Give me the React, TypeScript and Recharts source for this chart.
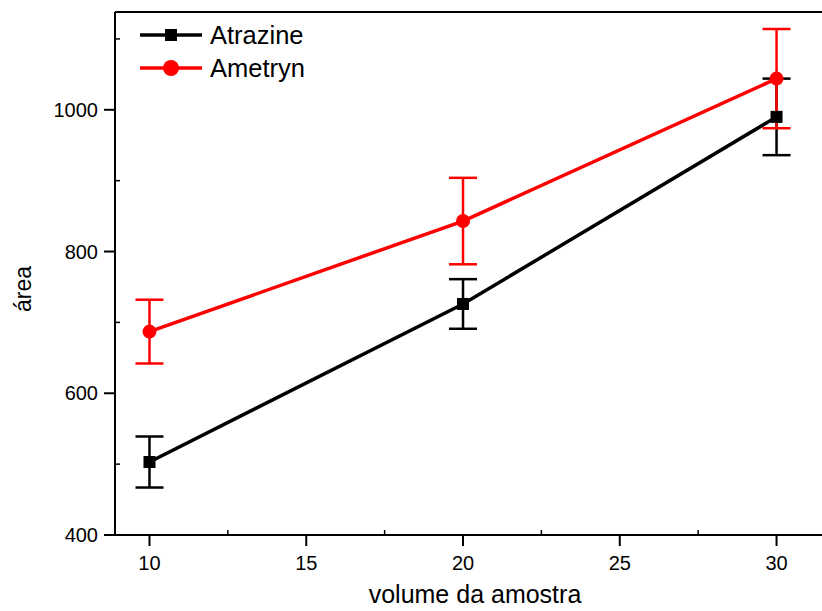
import React from 'react';
import {
  LineChart,
  Line,
  XAxis,
  YAxis,
  ErrorBar,
  ReferenceLine
} from 'recharts';

const volumes = [10, 20, 30];
const atrazine = [503, 726, 990];
const atrazineErr = [36, 35, 54];
const ametryn = [687, 843, 1044];
const ametrynErr = [45, 61, 70];

const xTicks = [10, 12.5, 15, 17.5, 20, 22.5, 25, 27.5, 30];
const xMajor = [10, 15, 20, 25, 30];
const yTicks = [400, 500, 600, 700, 800, 900, 1000, 1100];
const yMajor = [400, 600, 800, 1000];

const FONT = '"Liberation Sans", Arial, sans-serif';
const RED = '#ff0000';

const data = volumes.map((v, i) => ({
  vol: v,
  atrazine: atrazine[i],
  atrazineErr: atrazineErr[i],
  ametryn: ametryn[i],
  ametrynErr: ametrynErr[i]
}));

const XTick = (props: any) => {
  const { x, y, payload } = props;
  if (!xMajor.includes(payload.value)) {
    return <line x1={x} y1={y} x2={x} y2={y - 5} stroke="#000" strokeWidth={1.5} />;
  }
  return (
    <g>
      <line x1={x} y1={y} x2={x} y2={y + 11} stroke="#000" strokeWidth={2} />
      <text x={x} y={y + 35} textAnchor="middle" fontSize={20} fontFamily={FONT} fill="#000">
        {payload.value}
      </text>
    </g>
  );
};

const YTick = (props: any) => {
  const { x, y, payload } = props;
  if (!yMajor.includes(payload.value)) {
    return <line x1={x} y1={y} x2={x + 5} y2={y} stroke="#000" strokeWidth={1.5} />;
  }
  return (
    <g>
      <line x1={x} y1={y} x2={x - 11} y2={y} stroke="#000" strokeWidth={2} />
      <text x={x - 17} y={y + 7} textAnchor="end" fontSize={20} fontFamily={FONT} fill="#000">
        {payload.value}
      </text>
    </g>
  );
};

const renderSquare = (props: any) => {
  const { cx, cy, index } = props;
  return <rect key={`sq-${index}`} x={cx - 6} y={cy - 6} width={12} height={12} fill="#000" />;
};

const renderCircle = (props: any) => {
  const { cx, cy, index } = props;
  return <circle key={`ci-${index}`} cx={cx} cy={cy} r={7} fill={RED} />;
};

const LegendBox = () => (
  <svg width={230} height={80} style={{ position: 'absolute', left: 130, top: 18 }}>
    <line x1={10} y1={17} x2={72} y2={17} stroke="#000" strokeWidth={3.5} />
    <rect x={35} y={11} width={12} height={12} fill="#000" />
    <text x={80} y={26} fontSize={25.5} fontFamily={FONT} fill="#000">Atrazine</text>
    <line x1={10} y1={50} x2={72} y2={50} stroke={RED} strokeWidth={3.5} />
    <circle cx={41} cy={50} r={8} fill={RED} />
    <text x={80} y={59} fontSize={25.5} fontFamily={FONT} fill="#000">Ametryn</text>
  </svg>
);

export default function App() {
  return (
    <div style={{ position: 'absolute', left: 0, top: 0, width: 822, height: 611, background: '#fff', overflow: 'hidden' }}>
      <LineChart width={822} height={611} data={data} margin={{ top: 12, right: 0, left: 0, bottom: 0 }}>
        <XAxis
          dataKey="vol"
          type="number"
          domain={[8.9, 31.45]}
          ticks={xTicks}
          interval={0}
          tick={<XTick />}
          tickLine={false}
          tickSize={0}
          tickMargin={0}
          height={76}
          stroke="#000"
          strokeWidth={2}
          allowDataOverflow
          label={() => (
            <text x={475} y={603} textAnchor="middle" fontSize={25} fontFamily={FONT} fill="#000">
              volume da amostra
            </text>
          )}
        />
        <YAxis
          type="number"
          domain={[400, 1138]}
          ticks={yTicks}
          interval={0}
          tick={<YTick />}
          tickLine={false}
          tickSize={0}
          tickMargin={0}
          width={115}
          stroke="#000"
          strokeWidth={2}
          allowDataOverflow
          label={() => (
            <text
              x={0}
              y={0}
              transform="translate(31, 289) rotate(-90)"
              textAnchor="middle"
              fontSize={23}
              fontFamily={FONT}
              fill="#000"
            >
              área
            </text>
          )}
        />
        <ReferenceLine y={1138} stroke="#000" strokeWidth={2} ifOverflow="visible" />
        <Line
          dataKey="atrazine"
          stroke="#000"
          strokeWidth={3.5}
          dot={renderSquare}
          activeDot={false}
          isAnimationActive={false}
          type="linear"
        >
          <ErrorBar dataKey="atrazineErr" width={14} stroke="#000" strokeWidth={2.5} direction="y" />
        </Line>
        <Line
          dataKey="ametryn"
          stroke={RED}
          strokeWidth={3.5}
          dot={renderCircle}
          activeDot={false}
          isAnimationActive={false}
          type="linear"
        >
          <ErrorBar dataKey="ametrynErr" width={14} stroke={RED} strokeWidth={2.5} direction="y" />
        </Line>
      </LineChart>
      <LegendBox />
    </div>
  );
}
